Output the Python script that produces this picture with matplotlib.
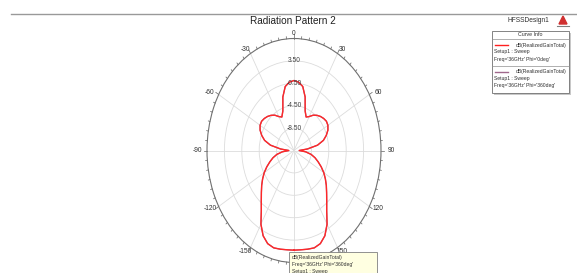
import matplotlib

matplotlib.use("Agg")

import matplotlib.pyplot as plt
import numpy as np
from matplotlib.lines import Line2D
from matplotlib.patches import Polygon, Rectangle

plt.rcParams["font.family"] = ["Liberation Sans", "DejaVu Sans"]

W, H = 577, 273

# theta (deg, HFSS convention: 0 at top, clockwise positive) and realized gain (dB)
theta_deg = [
    -180, -175, -170, -165, -160, -155, -150, -145, -140, -135, -130, -125, -120,
    -115, -110, -105, -100, -95, -90, -85, -80, -75, -70, -65, -60, -55, -50, -45,
    -40, -35, -30, -25, -20, -15, -10, -5, 0, 5, 10, 15, 20, 25, 30, 35, 40, 45,
    50, 55, 60, 65, 70, 75, 80, 85, 90, 95, 100, 105, 110, 115, 120, 125, 130, 135,
    140, 145, 150, 155, 160, 165, 170, 175, 180,
]
gain_phi0 = [
    5.3, 5.3, 5.4, 5.5, 5.2, 4.3, 2.7, 0.6, -0.8, -1.9, -2.8, -3.7, -4.6,
    -5.6, -6.6, -7.5, -8.5, -9.8, -11.3, -9.4, -7.0, -5.5, -4.6, -3.9, -3.5, -3.4, -3.6, -3.9,
    -4.3, -4.8, -5.5, -5.9, -5.0, -2.6, -0.9, -0.25, 0.0, -0.25, -0.9, -2.6, -5.0, -5.9, -5.5, -4.8, -4.3, -3.9,
    -3.6, -3.4, -3.5, -3.9, -4.6, -5.5, -7.0, -9.4, -11.3, -9.8, -8.5, -7.5, -6.6, -5.6, -4.6, -3.7, -2.8, -1.9,
    -0.8, 0.6, 2.7, 4.3, 5.2, 5.5, 5.4, 5.3, 5.3,
]
gain_phi360 = list(gain_phi0)

r_min, r_max = -12.5, 7.5
r_rings = [-8.5, -4.5, -0.5, 3.5]
r_ring_labels = ["-8.50", "-4.50", "-0.50", "3.50"]
theta_major = [0, 30, 60, 90, 120, 150, 180, -150, -120, -90, -60, -30]
theta_major_labels = ["0", "30", "60", "90", "120", "150", "", "-150", "-120", "-90", "-60", "-30"]

legend_entries = [
    ("#ff2020", ["dB(RealizedGainTotal)", "Setup1 : Sweep", "Freq='36GHz' Phi='0deg'"]),
    ("#a0688c", ["dB(RealizedGainTotal)", "Setup1 : Sweep", "Freq='36GHz' Phi='360deg'"]),
]
marker_lines = ["dB(RealizedGainTotal)", "Freq='36GHz' Phi='360deg'", "Setup1 : Sweep"]


def fx(x):
    return x / W


def fy(y):
    return 1 - y / H


fig = plt.figure(figsize=(W / 100, H / 100), dpi=100)

# elliptical polar plot: center (294, 150.5), radii 87 x 112 px
cx, cy, rx, ry = 294, 150.5, 87, 112
ax = fig.add_axes(
    [fx(cx - rx), fy(cy + ry), 2 * rx / W, 2 * ry / H], projection="polar"
)
ax.set_aspect("auto")
ax.set_theta_zero_location("N")
ax.set_theta_direction(-1)
ax.set_ylim(r_min, r_max)

th = np.deg2rad(theta_deg)
ax.plot(th, gain_phi360, color="#a0688c", lw=0.9)
ax.plot(th, gain_phi0, color="#ff2828", lw=1.0)

ax.set_yticks(r_rings)
ax.set_yticklabels([])
ax.set_xticks(np.deg2rad(np.arange(0, 360, 30)))
ax.set_xticklabels([])
ax.grid(True, color="#dcdcdc", lw=0.6)
ax.tick_params(axis="x", which="both", length=0)
ax.spines["polar"].set_color("#707070")
ax.spines["polar"].set_linewidth(0.8)

# outer tick marks every 5 deg, longer every 30 deg
for t in range(0, 360, 5):
    a = np.deg2rad(t)
    ext = 0.75 if t % 30 == 0 else 0.4
    ax.plot([a, a], [r_max, r_max + ext], color="#606060", lw=0.5, clip_on=False)

for r, lab in zip(r_rings, r_ring_labels):
    ax.text(0, r, lab, ha="center", va="center", fontsize=4.8, color="#404040")

for t, lab in zip(theta_major, theta_major_labels):
    if not lab:
        continue
    a = np.deg2rad(t)
    ax.annotate(
        lab, xy=(a, r_max), xytext=(7.2 * np.sin(a), 3.6 * np.cos(a)),
        textcoords="offset points", ha="center", va="center",
        fontsize=4.8, color="#303030", annotation_clip=False,
    )

# title and header line
fig.text(fx(293), fy(21.5), "Radiation Pattern 2", ha="center", va="center", fontsize=7.2, color="#202020")
fig.add_artist(Line2D([fx(11), fx(577)], [fy(14), fy(14)], color="#999999", lw=1.0))

fig.text(fx(549), fy(20.5), "HFSSDesign1", ha="right", va="center", fontsize=4.8, color="#303030")
fig.add_artist(Polygon([[fx(559), fy(24)], [fx(567), fy(24)], [fx(563), fy(16)]],
                       closed=True, color="#d03030", transform=fig.transFigure))
fig.add_artist(Line2D([fx(557), fx(569)], [fy(25.5), fy(25.5)], color="#808080", lw=0.8))

# curve info box
bx0, by0, bx1, by1 = 492, 31, 569, 93
fig.add_artist(Rectangle((fx(bx0 + 2), fy(by1 + 2)), (bx1 - bx0) / W, (by1 - by0) / H,
                         transform=fig.transFigure, facecolor="#c8c8c8", edgecolor="none"))
fig.add_artist(Rectangle((fx(bx0), fy(by1)), (bx1 - bx0) / W, (by1 - by0) / H,
                         transform=fig.transFigure, facecolor="white", edgecolor="#707070", lw=0.6))
fig.text(fx((bx0 + bx1) / 2), fy(34.5), "Curve Info", ha="center", va="center", fontsize=3.8, color="#303030")
fig.add_artist(Line2D([fx(bx0), fx(bx1)], [fy(39), fy(39)], color="#909090", lw=0.5))
fig.add_artist(Line2D([fx(bx0), fx(bx1)], [fy(66), fy(66)], color="#909090", lw=0.5))
for i, (col, lines) in enumerate(legend_entries):
    y0 = 45 + 26.5 * i
    fig.add_artist(Line2D([fx(495), fx(508)], [fy(y0), fy(y0)], color=col, lw=1.0))
    fig.text(fx(566), fy(y0), lines[0], ha="right", va="center", fontsize=3.6, color="#303030")
    fig.text(fx(494), fy(y0 + 7), lines[1], ha="left", va="center", fontsize=3.6, color="#303030")
    fig.text(fx(494), fy(y0 + 14), lines[2], ha="left", va="center", fontsize=3.6, color="#303030")

# marker annotation box at the bottom
fig.add_artist(Rectangle((fx(289), fy(280)), 88 / W, 28 / H, transform=fig.transFigure,
                         facecolor="#ffffe1", edgecolor="#808080", lw=0.6))
for k, txt in enumerate(marker_lines):
    fig.text(fx(292), fy(257 + 7.5 * k), txt, ha="left", va="center", fontsize=3.6, color="#303030")

fig.savefig("out.png", dpi=100)
